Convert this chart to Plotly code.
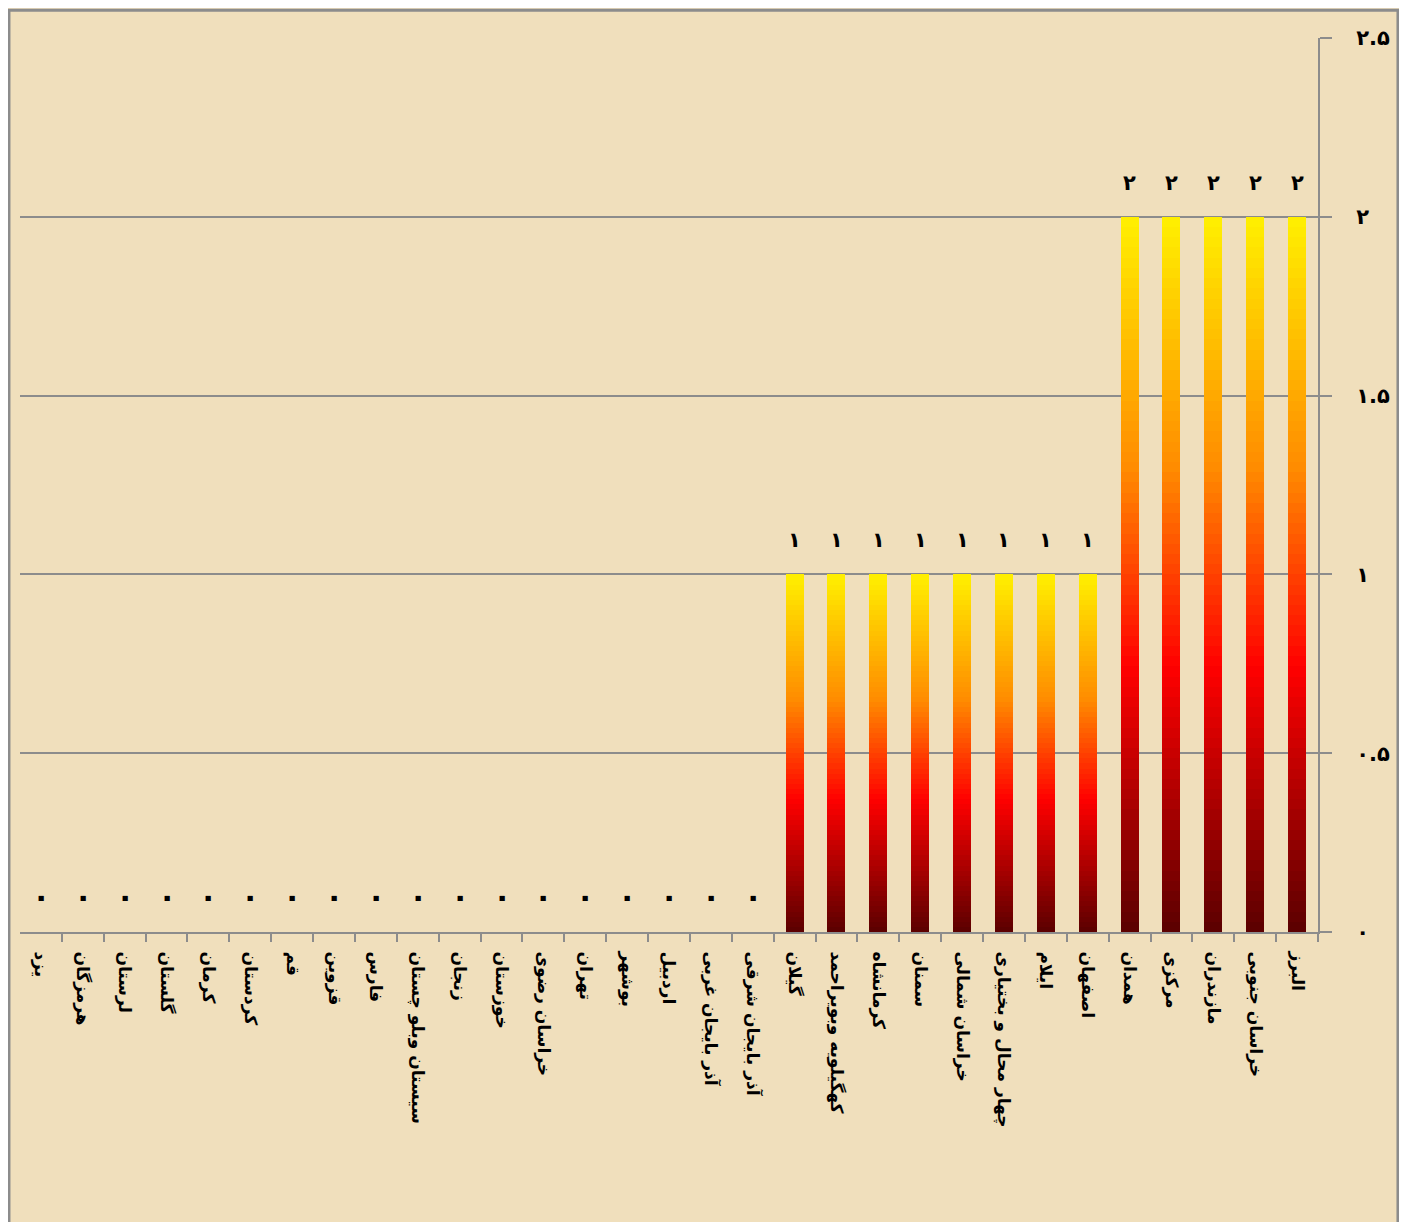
import plotly.graph_objects as go

# ---------------- data ----------------
provinces = [
    "البرز", "خراسان جنوبی", "مازندران", "مرکزی", "همدان",
    "اصفهان", "ایلام", "چهار محال و بختیاری", "خراسان شمالی", "سمنان",
    "کرمانشاه", "کهگیلویه وبویراحمد", "گیلان",
    "آذر بایجان شرقی", "آذر بایجان غربی", "اردبیل", "بوشهر", "تهران",
    "خراسان رضوی", "خوزستان", "زنجان", "سیستان وبلو چستان", "فارس",
    "قزوین", "قم", "کردستان", "کرمان", "گلستان", "لرستان", "هرمزگان", "یزد",
]
values = [2, 2, 2, 2, 2,
          1, 1, 1, 1, 1, 1, 1, 1,
          0, 0, 0, 0, 0, 0, 0, 0, 0, 0, 0, 0, 0, 0, 0, 0, 0, 0]
y_tickvals = [0, 0.5, 1, 1.5, 2, 2.5]
y_ticktext = ["۰", "۰.۵", "۱", "۱.۵", "۲", "۲.۵"]

PERSIAN = str.maketrans("0123456789", "۰۱۲۳۴۵۶۷۸۹")
def fa(v):
    return str(v).translate(PERSIAN)

# gradient (bottom -> top)
stops = [(0.0, (0x5A, 0x00, 0x00)), (0.37, (0xFF, 0x00, 0x00)),
         (0.65, (0xFF, 0x8C, 0x00)), (1.0, (0xFF, 0xF0, 0x00))]

def grad(t):
    for (t0, c0), (t1, c1) in zip(stops[:-1], stops[1:]):
        if t <= t1:
            f = (t - t0) / (t1 - t0)
            return "rgb(%d,%d,%d)" % tuple(round(a + (b - a) * f) for a, b in zip(c0, c1))
    return "rgb(%d,%d,%d)" % stops[-1][1]

N = 70
fig = go.Figure()
for i in range(N):
    fig.add_trace(go.Bar(
        x=provinces,
        y=[v / N for v in values],
        marker=dict(color=grad((i + 0.5) / N), line=dict(width=0)),
        showlegend=False,
        hoverinfo="skip",
    ))

for p, v in zip(provinces, values):
    fig.add_annotation(x=p, y=v, text=fa(v), showarrow=False,
                       yshift=34 if v else 36,
                       font=dict(size=21 if v else 30, color="black",
                                 family="DejaVu Sans", weight="bold"))

bg = "#F0DFBC"
fig.update_layout(
    barmode="stack",
    bargap=0.57,
    width=1407, height=1222,
    margin=dict(l=12, r=97, t=30, b=298),
    paper_bgcolor=bg, plot_bgcolor=bg,
    font=dict(family="DejaVu Sans", color="black"),
    xaxis=dict(
        categoryorder="array", categoryarray=provinces,
        autorange="reversed",
        tickangle=90,
        ticks="outside", tickson="boundaries", ticklen=8, tickwidth=2, tickcolor="#8C8C8C",
        showline=True, linecolor="#8C8C8C", linewidth=2,
        showgrid=False,
        ticklabelstandoff=14,
        tickfont=dict(size=17, color="black", family="DejaVu Sans", weight="bold"),
    ),
    yaxis=dict(
        side="right", range=[0, 2.5],
        tickvals=y_tickvals, ticktext=y_ticktext,
        ticks="outside", ticklen=12, tickwidth=2, tickcolor="#8C8C8C",
        showline=True, linecolor="#8C8C8C", linewidth=2,
        showgrid=True, gridcolor="#8C8C8C", gridwidth=1.5,
        zeroline=False,
        ticklabelstandoff=20,
        tickfont=dict(size=21, color="black", family="DejaVu Sans", weight="bold"),
    ),
)
# outer frame
fig.add_shape(type="rect", xref="paper", yref="paper",
              x0=-0.0085, x1=1.0616, y0=-0.34, y1=1.031,
              line=dict(color="#8C8C8C", width=3), layer="below")

fig.write_html("out.html")
